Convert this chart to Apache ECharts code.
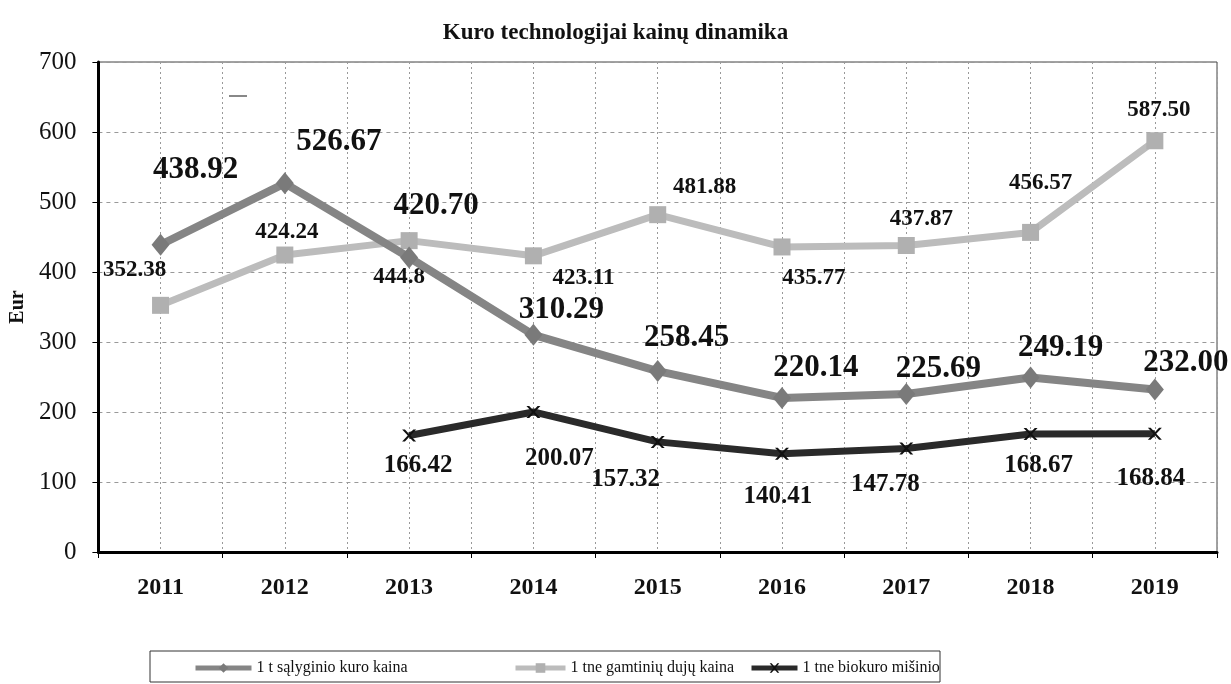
<!DOCTYPE html>
<html>
<head>
<meta charset="utf-8">
<script src="https://cdn.jsdelivr.net/npm/echarts@6/dist/echarts.min.js"></script>
<style>
  html, body { margin: 0; padding: 0; background: #fff; }
  #chart { width: 1231px; height: 684px; }
</style>
</head>
<body>
<div id="chart"></div>
<script>
var years = ['2011', '2012', '2013', '2014', '2015', '2016', '2017', '2018', '2019'];
var salyginio = [438.92, 526.67, 420.70, 310.29, 258.45, 220.14, 225.69, 249.19, 232.00];
var duju = [352.38, 424.24, 444.8, 423.11, 481.88, 435.77, 437.87, 456.57, 587.50];
var dujuLabels = ['352.38', '424.24', '444.8', '423.11', '481.88', '435.77', '437.87', '456.57', '587.50'];
var biokuro = ['-', '-', 166.42, 200.07, 157.32, 140.41, 147.78, 168.67, 168.84];
var names = ['1 t sąlyginio kuro kaina', '1 tne gamtinių dujų kaina', '1 tne biokuro mišinio'];

var font = 'Liberation Serif';
var myChart = echarts.init(document.getElementById('chart'));

// label offsets (px) so the numbers sit roughly where the scan has them
var offA = [[35,-75],[54,-41],[27,-52],[28,-25],[29,-33],[34,-30],[32,-25],[30,-30],[31,-27]];
var offB = [[-26,-35],[2,-23],[-10,36],[50,22],[47,-28],[32,31],[15,-26],[10,-49],[4,-31]];
var offC = [null,null,[9,30],[26,47],[-32,38],[-4,43],[-21,36],[8,32],[-4,45]];

function items(vals, offs, texts) {
  var out = [];
  for (var i = 0; i < vals.length; i++) {
    if (vals[i] === '-') { out.push('-'); continue; }
    var it = { value: vals[i], label: { offset: offs[i] } };
    if (texts) it.label.formatter = texts[i];
    out.push(it);
  }
  return out;
}

var xMark = 'path://M0,0 L2,0 L5,3 L8,0 L10,0 L6,4 L10,8 L8,8 L5,5 L2,8 L0,8 L4,4 Z';

var legendBase = {
  top: 655,
  itemHeight: 12,
  itemGap: 0,
  lineStyle: { width: 5 },
  textStyle: { fontFamily: font, fontSize: 16, color: '#111' },
  selectedMode: false
};

option = {
  animation: false,
  backgroundColor: '#fff',
  title: {
    text: 'Kuro technologijai kainų dinamika',
    left: 'center',
    top: 17,
    textStyle: { fontFamily: font, fontSize: 23, fontWeight: 'bold', color: '#111' }
  },
  legend: [
    Object.assign({ left: 188, itemWidth: 56, data: [names[0]] }, legendBase),
    Object.assign({ left: 508, itemWidth: 50, data: [names[1]] }, legendBase),
    Object.assign({ left: 744, itemWidth: 46, data: [names[2]] }, legendBase)
  ],
  graphic: [{
    type: 'rect',
    shape: { x: 150, y: 651, width: 790, height: 31 },
    style: { fill: 'none', stroke: '#333', lineWidth: 1 }
  }, {
    type: 'line',
    shape: { x1: 229, y1: 96, x2: 247, y2: 96 },
    style: { stroke: '#888', lineWidth: 2 }
  }],
  grid: {
    left: 97, right: 14, top: 62, bottom: 132,
    show: true, borderColor: '#444', borderWidth: 1
  },
  xAxis: [{
    type: 'category',
    data: years,
    boundaryGap: true,
    axisLine: { lineStyle: { color: '#000', width: 3 } },
    axisTick: { show: true, length: 6, lineStyle: { color: '#000' } },
    axisLabel: { fontFamily: font, fontSize: 24, fontWeight: 'bold', color: '#111', margin: 24 },
    splitLine: { show: false }
  }, {
    type: 'value',
    min: 0, max: 18, interval: 1,
    position: 'bottom',
    axisLine: { show: false },
    axisTick: { show: false },
    axisLabel: { show: false },
    splitLine: { show: true, lineStyle: { color: '#999', type: [2, 3], width: 1 } }
  }],
  yAxis: {
    type: 'value',
    min: 0, max: 700, interval: 100,
    name: 'Eur',
    nameLocation: 'middle',
    nameGap: 70,
    nameTextStyle: { fontFamily: font, fontSize: 20, fontWeight: 'bold', color: '#111' },
    axisLine: { show: true, lineStyle: { color: '#000', width: 3 } },
    axisTick: { show: true, length: 6, lineStyle: { color: '#000' } },
    axisLabel: { fontFamily: font, fontSize: 25, color: '#111', margin: 22 },
    splitLine: { lineStyle: { color: '#999', type: [4, 4], width: 1 } }
  },
  series: [{
    name: names[0],
    type: 'line',
    data: items(salyginio, offA),
    symbol: 'diamond',
    symbolSize: [18, 22],
    z: 3,
    lineStyle: { color: '#858585', width: 8 },
    itemStyle: { color: '#7a7a7a' },
    label: {
      show: true, position: 'inside',
      formatter: function (p) { return p.value.toFixed(2); },
      fontFamily: font, fontSize: 31, fontWeight: 'bold', color: '#111'
    }
  }, {
    name: names[1],
    type: 'line',
    data: items(duju, offB, dujuLabels),
    symbol: 'rect',
    symbolSize: 17,
    z: 2,
    lineStyle: { color: '#bcbcbc', width: 7 },
    itemStyle: { color: '#b0b0b0' },
    label: {
      show: true, position: 'inside',
      fontFamily: font, fontSize: 23, fontWeight: 'bold', color: '#111'
    }
  }, {
    name: names[2],
    type: 'line',
    data: items(biokuro, offC),
    symbol: xMark,
    symbolSize: [14, 12],
    z: 4,
    lineStyle: { color: '#2a2a2a', width: 7 },
    itemStyle: { color: '#111' },
    label: {
      show: true, position: 'inside',
      formatter: function (p) { return p.value.toFixed(2); },
      fontFamily: font, fontSize: 25, fontWeight: 'bold', color: '#111'
    }
  }]
};

myChart.setOption(option);
</script>
</body>
</html>
